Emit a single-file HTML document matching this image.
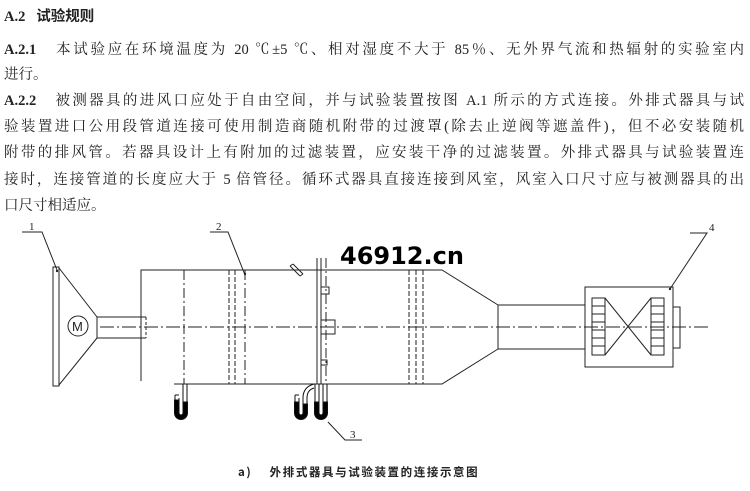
<!DOCTYPE html>
<html><head><meta charset="utf-8"><style>
body{margin:0;width:750px;height:491px;background:#fff;overflow:hidden;position:relative;font-family:"Liberation Serif","Noto Serif CJK SC","Noto Sans CJK SC",serif;color:#222}
.l{position:absolute;left:4px;width:740px;font-size:14.5px;line-height:18px;white-space:nowrap;text-align:justify;text-align-last:justify}
.b{font-weight:bold}
svg{position:absolute;left:0;top:0}
</style></head><body>
<div class="l" style="top:7px;width:auto;text-align-last:auto"><span class="b">A.2</span>&nbsp;&nbsp;&nbsp;<span style="font-family:'Noto Sans CJK SC',sans-serif;font-weight:bold">试验规则</span></div>
<div class="l" style="top:41px"><span class="b">A.2.1</span>　本试验应在环境温度为 20 ℃±5 ℃、相对湿度不大于 85％、无外界气流和热辐射的实验室内</div>
<div class="l" style="top:66px;width:auto;text-align-last:auto">进行。</div>
<div class="l" style="top:92px"><span class="b">A.2.2</span>　被测器具的进风口应处于自由空间，并与试验装置按图 A.1 所示的方式连接。外排式器具与试</div>
<div class="l" style="top:118px">验装置进口公用段管道连接可使用制造商随机附带的过渡罩(除去止逆阀等遮盖件)，但不必安装随机</div>
<div class="l" style="top:144px">附带的排风管。若器具设计上有附加的过滤装置，应安装干净的过滤装置。外排式器具与试验装置连</div>
<div class="l" style="top:171px">接时，连接管道的长度应大于 5 倍管径。循环式器具直接连接到风室，风室入口尺寸应与被测器具的出</div>
<div class="l" style="top:197px;width:auto;text-align-last:auto">口尺寸相适应。</div>
<svg width="750" height="491" viewBox="0 0 750 491" fill="none" stroke="#222" stroke-width="1">
<text x="340" y="264" font-family="'DejaVu Sans',sans-serif" font-weight="bold" font-size="24" fill="#000" stroke="none">46912.cn</text>
<rect x="53" y="267" width="6" height="119"/>
<path d="M59 268 L97 317 M59 385 L97 338 M97 317 V338"/>
<circle cx="78" cy="326" r="10"/>
<text x="72" y="331" font-size="13" fill="#222" stroke="none" font-family="Liberation Sans">M</text>
<path d="M97 317 H146 M97 338 H146"/>
<path d="M146 317 V338" stroke-dasharray="3 2"/>
<path d="M141 381 V270 H442 L498 305 M174 384 H442 L498 349"/>
<rect x="498" y="305" width="87" height="44"/>
<rect x="585" y="287" width="88" height="80"/>
<rect x="673" y="307" width="7" height="41"/>
<rect x="592" y="298" width="13" height="57"/>
<rect x="651" y="298" width="13" height="57"/>
<path d="M592 306H605M592 314H605M592 322H605M592 330H605M592 338H605M592 346H605M651 306H664M651 314H664M651 322H664M651 330H664M651 338H664M651 346H664"/>
<path d="M605 298 L651 355 M605 355 L651 298"/>
<path d="M100 327 H710" stroke-dasharray="14 3 2 3"/>
<path d="M184 270 V384 M245 270 V384 M326 258 V384" stroke-dasharray="10 3 2 3"/>
<path d="M229 270 V384 M235 270 V384 M409 270 V384 M416 270 V384 M423 270 V384" stroke-dasharray="5 2"/>
<path d="M317 258 V384 M321 258 V384"/>
<rect x="321" y="287" width="8" height="7"/>
<rect x="321" y="320" width="14" height="14"/>
<rect x="321" y="360" width="6" height="5"/>
<path d="M290 266 L300 276 M293 264 L303 274 M290 266 L293 264 M300 276 L303 274"/>
<g stroke="#111">
<path d="M175 395 V413 A6 6 0 0 0 187 413 V384 M179 398 V413 A2 2 0 0 0 183 413 V384 M175 395 H179"/>
<path d="M174.5 400 V413 A6.5 6.5 0 0 0 187.5 413 V402 H183 V413 A2 2 0 0 1 179 413 V400 Z" fill="#000"/>
<path d="M295 395 V413 A6 6 0 0 0 307 413 V398 Q307 390 314 388 M299 398 V413 A2 2 0 0 0 303 413 V398 Q303 387 314 384 M295 395 H299"/>
<path d="M294.5 402 V413 A6.5 6.5 0 0 0 307.5 413 V404 H303 V413 A2 2 0 0 1 299 413 V402 Z" fill="#000"/>
<path d="M315 384 V413 A6 6 0 0 0 327 413 V384 M319 384 V413 A2 2 0 0 0 323 413 V384"/>
<path d="M314.5 402 V413 A6.5 6.5 0 0 0 327.5 413 V402 H323 V413 A2 2 0 0 1 319 413 V402 Z" fill="#000"/>
</g>
<path d="M22 232 H42 L57 270 M210 232 H228 L245 275 M328 422 L345 440 H362 M690 233 H707 L670 289"/>
<g fill="#222" stroke="none" font-size="11" font-family="Liberation Serif">
<text x="29" y="230">1</text><text x="216" y="230">2</text><text x="350" y="438">3</text><text x="709" y="231">4</text>
<circle cx="57" cy="271" r="1.2"/><circle cx="245" cy="274" r="1.2"/><circle cx="670" cy="289" r="1.2"/>
</g>
<text x="238" y="476" fill="#222" stroke="none" font-size="11.5" font-weight="bold" font-family="'Noto Sans CJK SC',sans-serif" letter-spacing="1.6">a)　 外排式器具与试验装置的连接示意图</text>
</svg>
</body></html>
